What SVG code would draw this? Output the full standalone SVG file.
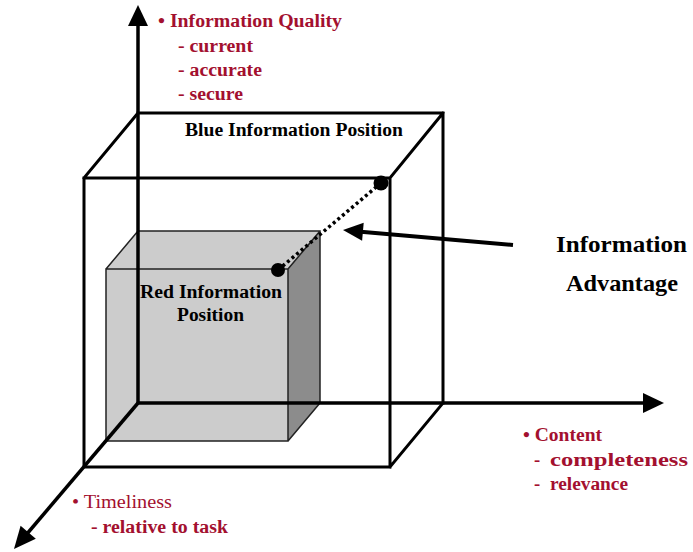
<svg xmlns="http://www.w3.org/2000/svg" width="693" height="552" viewBox="0 0 693 552">
<defs>
<style>
.edge{fill:none;stroke:#000;stroke-width:3;stroke-linejoin:miter;stroke-linecap:square}
.thin{fill:none;stroke:#222;stroke-width:1.5}
.axis{fill:none;stroke:#000;stroke-width:3.5}
.head{fill:#000;stroke:none}
.red{font-family:"Liberation Serif","Times New Roman",serif;font-weight:bold;font-size:18.5px;fill:#a3102f}
.redn{font-family:"Liberation Serif","Times New Roman",serif;font-weight:normal;font-size:18.5px;fill:#a3102f}
.blk{font-family:"Liberation Serif","Times New Roman",serif;font-weight:bold;font-size:18px;fill:#000}
.big{font-family:"Liberation Serif","Times New Roman",serif;font-weight:bold;font-size:24px;fill:#000}
</style>
</defs>
<rect width="693" height="552" fill="#fff"/>

<g id="red-position">
<polygon points="106,269 138,231 320,231 320,403 288,441 106,441" fill="#cccccc"/>
<polygon points="288,269 320,231 320,403 288,441" fill="#8c8c8c"/>
<path class="thin" d="M106,269 H288 V441 H106 Z M138,231 H320 V403 H138 Z M106,269 L138,231 M288,269 L320,231 M288,441 L320,403 M106,441 L138,403"/>
<text class="blk" x="140" y="298" textLength="142" lengthAdjust="spacingAndGlyphs">Red Information</text>
<text class="blk" x="177" y="321" textLength="67" lengthAdjust="spacingAndGlyphs">Position</text>
</g>

<g id="axes">
<line class="axis" x1="138" y1="22" x2="138" y2="403"/>
<polygon class="head" points="138,5 148,26 128,26"/>
<line class="axis" x1="138" y1="403" x2="648" y2="403"/>
<polygon class="head" points="664,403 643,393 643,413"/>
<line class="axis" x1="138" y1="403" x2="26" y2="535"/>
<polygon class="head" points="14,549 35.8,538.7 20.6,525.7"/>
</g>

<g id="blue-position">
<path class="edge" d="M84,178 H390 V467 H84 Z M138,113 H443 V403 M84,178 L138,113 M390,178 L443,113 M390,467 L443,403"/>
<text class="blk" x="185" y="136" textLength="218" lengthAdjust="spacingAndGlyphs">Blue Information Position</text>
</g>

<g id="connectors">
<line x1="278" y1="270" x2="381" y2="183" stroke="#000" stroke-width="3.5" stroke-dasharray="3,3"/>
<circle cx="381" cy="183" r="7.5" fill="#000"/>
<circle cx="278" cy="270" r="7" fill="#000"/>
<line x1="513" y1="245" x2="358" y2="231.5" stroke="#000" stroke-width="4"/>
<polygon class="head" points="343,230 363.7,222.8 362.1,240.8"/>
</g>

<g id="info-advantage">
<text class="big" x="556" y="252" textLength="131" lengthAdjust="spacingAndGlyphs">Information</text>
<text class="big" x="566" y="291" textLength="112" lengthAdjust="spacingAndGlyphs">Advantage</text>
</g>

<g id="quality-label">
<text class="red" x="158" y="27" textLength="184" lengthAdjust="spacingAndGlyphs">• Information Quality</text>
<text class="red" x="178" y="52" textLength="75" lengthAdjust="spacingAndGlyphs">- current</text>
<text class="red" x="178" y="76" textLength="84" lengthAdjust="spacingAndGlyphs">- accurate</text>
<text class="red" x="178" y="100" textLength="65" lengthAdjust="spacingAndGlyphs">- secure</text>
</g>

<g id="content-label">
<text class="red" x="523" y="441" textLength="79" lengthAdjust="spacingAndGlyphs">• Content</text>
<text class="red" x="534" y="466">-</text>
<text class="red" x="550" y="466" textLength="138" lengthAdjust="spacingAndGlyphs">completeness</text>
<text class="red" x="534" y="490">-</text>
<text class="red" x="550" y="490" textLength="78" lengthAdjust="spacingAndGlyphs">relevance</text>
</g>

<g id="timeliness-label">
<text class="redn" x="72" y="508" textLength="100" lengthAdjust="spacingAndGlyphs">• Timeliness</text>
<text class="red" x="91" y="533" textLength="137" lengthAdjust="spacingAndGlyphs">- relative to task</text>
</g>
</svg>
